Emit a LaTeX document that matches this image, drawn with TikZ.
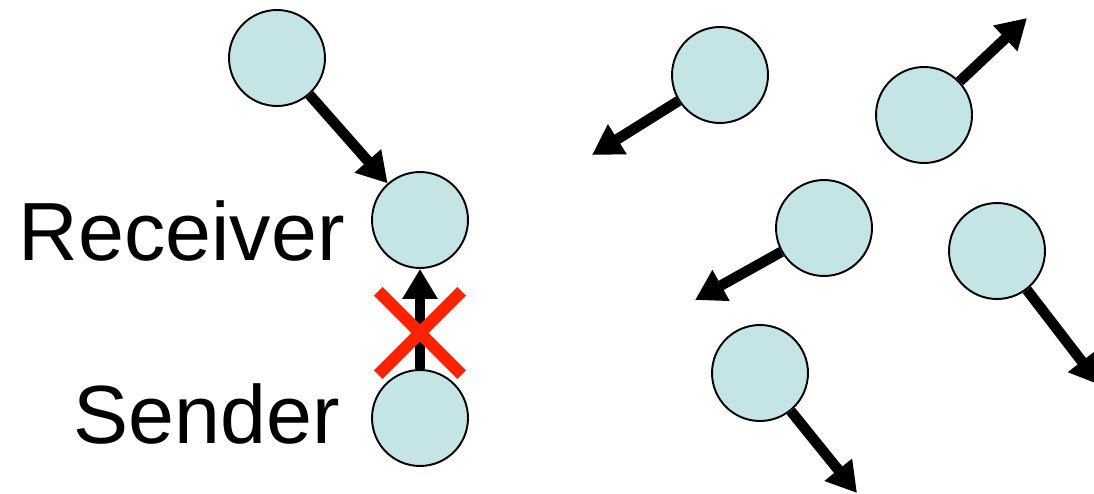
\documentclass[tikz,border=0pt]{standalone}
\usepackage{fontspec}
\setmainfont{Liberation Sans}
\usetikzlibrary{arrows.meta,shapes.misc}

\definecolor{hostfill}{RGB}{196,228,230}
\definecolor{xred}{RGB}{255,34,0}

\begin{document}
\begin{tikzpicture}[x=0.02cm, y=-0.02cm,
  host/.style={circle, draw=black, line width=1.1pt, fill=hostfill, minimum size=1.92cm, inner sep=0pt},
  msg/.style={line width=6pt, -{Triangle[length=17pt,width=19pt]}},
  nogo/.style={cross out, draw=xred, line width=7pt, minimum size=1.42cm, inner sep=0pt},
  lbl/.style={font=\fontsize{47}{56}\selectfont, inner sep=0pt, anchor=base east}]
\clip (0,0) rectangle (1094,493);
\useasboundingbox (0,0) rectangle (1094,493);
% left group
\node[host] (far) at (277,58) {};
\node[host] (recv) at (420,220) {};
\node[host] (send) at (420,418) {};
\node[lbl] at (345,260) {Receiver};
\node[lbl] at (340,443) {Sender};
\draw[msg] (far) -- (recv);
\draw[msg] (send) -- node[nogo, pos=0.36] {} (recv);
% right group
\node[host] (h1) at (720,75) {};
\node[host] (h2) at (924,115) {};
\node[host] (h3) at (824,228) {};
\node[host] (h4) at (997,251) {};
\node[host] (h5) at (760,373) {};
\coordinate (t1) at (592,155);
\coordinate (t2) at (1027,18);
\coordinate (t3) at (695,300);
\coordinate (t4) at (1100,385);
\coordinate (t5) at (857,493);
\draw[msg] (h1) -- (t1);
\draw[msg] (h2) -- (t2);
\draw[msg] (h3) -- (t3);
\draw[msg] (h4) -- (t4);
\draw[msg] (h5) -- (t5);
\end{tikzpicture}
\end{document}
